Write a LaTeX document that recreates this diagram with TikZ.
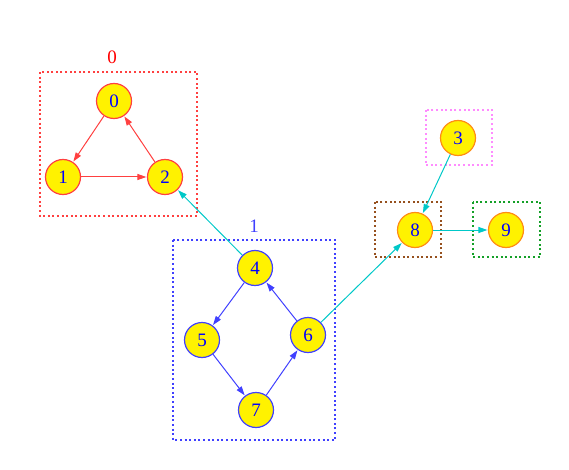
\documentclass[tikz,border=0pt]{standalone}
\usepackage{fontspec}
\setmainfont{Liberation Serif}
\usetikzlibrary{arrows.meta}
\definecolor{cred}{RGB}{255,64,64}
\definecolor{cblue}{RGB}{64,64,255}
\definecolor{corange}{RGB}{255,140,20}
\definecolor{ccyan}{RGB}{0,200,200}
\definecolor{cpink}{RGB}{255,140,255}
\definecolor{cbrown}{RGB}{150,80,30}
\definecolor{cgreen}{RGB}{20,160,40}
\tikzset{
  vert/.style={circle, fill=yellow, draw=#1, line width=1.2pt, minimum size=35pt, inner sep=0pt, text=blue, font=\fontsize{19}{19}\selectfont},
  clus/.style={draw=#1, line width=2pt, dash pattern=on 2pt off 2.6pt},
  edg/.style={draw=#1, line width=1pt, -{Triangle[length=9pt,width=6pt]}, shorten >=0.5pt},
}
\begin{document}
\begin{tikzpicture}[x=1pt,y=-1pt]
\useasboundingbox (0,0) rectangle (569,470);
% clusters
\draw[clus=cred] (40,72) rectangle (197,216);
\node[text=red, font=\fontsize{19}{19}\selectfont] (l0) at (112,57) {0};
\draw[clus=cblue] (173,240) rectangle (335,440);
\node[text=cblue, font=\fontsize{19}{19}\selectfont] (l1) at (254,226) {1};
\draw[clus=cpink] (426,110) rectangle (492,165);
\draw[clus=cbrown] (375,202) rectangle (441,257);
\draw[clus=cgreen] (473,202) rectangle (540,257);
% nodes
\node[vert=cred] (n0) at (114,101) {0};
\node[vert=cred] (n1) at (63,177) {1};
\node[vert=cred] (n2) at (165,177) {2};
\node[vert=corange] (n3) at (458,138) {3};
\node[vert=cblue] (n4) at (255,268) {4};
\node[vert=cblue] (n5) at (202,340) {5};
\node[vert=cblue] (n6) at (308,335) {6};
\node[vert=cblue] (n7) at (256,410) {7};
\node[vert=corange] (n8) at (415,230) {8};
\node[vert=corange] (n9) at (506,230) {9};
% edges
\draw[edg=cred] (n0) -- (n1);
\draw[edg=cred] (n1) -- (n2);
\draw[edg=cred] (n2) -- (n0);
\draw[edg=cblue] (n4) -- (n5);
\draw[edg=cblue] (n5) -- (n7);
\draw[edg=cblue] (n7) -- (n6);
\draw[edg=cblue] (n6) -- (n4);
\draw[edg=ccyan] (n4) -- (n2);
\draw[edg=ccyan] (n6) -- (n8);
\draw[edg=ccyan] (n3) -- (n8);
\draw[edg=ccyan] (n8) -- (n9);
\end{tikzpicture}
\end{document}
